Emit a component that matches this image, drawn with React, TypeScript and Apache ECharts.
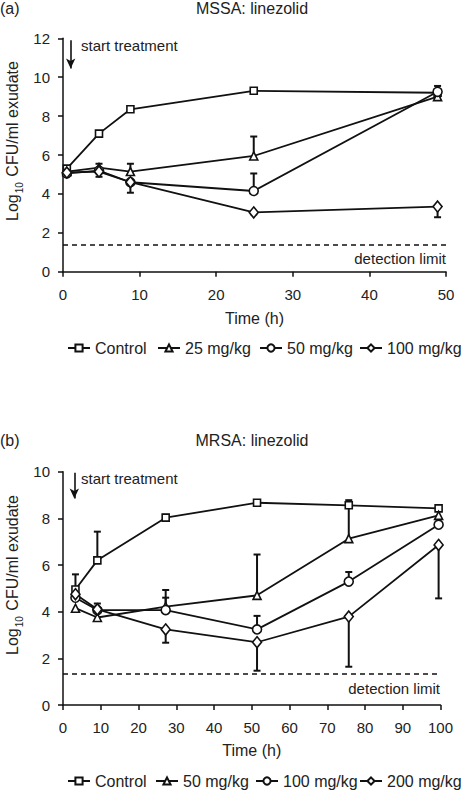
import React, { useEffect, useRef } from "react";
import * as echarts from "echarts";

// ---- Panel (a) MSSA ----
const timesA = [0.5, 4.7, 8.8, 24.9, 48.9];
const controlA = [5.3, 7.1, 8.35, 9.3, 9.2];
const mg25A = [5.15, 5.35, 5.15, 5.95, 9.0];
const mg50A = [5.05, 5.2, 4.6, 4.15, 9.25];
const mg100A = [5.1, 5.15, 4.6, 3.05, 3.35];
const mg25A_hi = [null, 5.55, 5.55, 6.95, null];
const mg50A_hi = [null, null, null, 5.05, 9.55];
const mg50A_lo = [null, null, null, null, 9.0];
const mg100A_lo = [null, 4.88, 4.06, 2.95, 2.8];
const legendA = ["Control", "25 mg/kg", "50 mg/kg", "100 mg/kg"];
const ticksAx = [0, 10, 20, 30, 40, 50];
const ticksAy = [0, 2, 4, 6, 8, 10, 12];
const detectionA = 1.4;
const startA = 1;

// ---- Panel (b) MRSA ----
const timesB = [3.3, 9.1, 27.2, 51.4, 75.7, 99.5];
const controlB = [4.95, 6.2, 8.03, 8.67, 8.56, 8.43];
const mg50B = [4.15, 3.75, 4.22, 4.7, 7.13, 8.13];
const mg100B = [4.6, 4.07, 4.07, 3.24, 5.29, 7.73];
const mg200B = [4.75, 4.1, 3.24, 2.69, 3.79, 6.86];
const controlB_hi = [5.6, 7.43, 8.15, null, 8.78, null];
const mg50B_hi = [null, null, 4.93, 6.45, 8.5, null];
const mg100B_hi = [null, 4.35, 4.6, 3.82, 5.7, null];
const mg200B_lo = [null, null, 2.67, 1.47, 1.64, 4.57];
const legendB = ["Control", "50 mg/kg", "100 mg/kg", "200 mg/kg"];
const ticksBx = [0, 10, 20, 30, 40, 50, 60, 70, 80, 90, 100];
const ticksBy = [0, 2, 4, 6, 8, 10];
const detectionB = 1.35;
const startB = 3;

const FONT = "Liberation Sans";
const INK = "#111";
const TXT = "#222";

function pairs(xs: number[], ys: number[]) {
  return xs.map((x, i) => [x, ys[i]]);
}
function bars(xs: number[], ys: number[], ends: (number | null)[]) {
  const out: number[][] = [];
  xs.forEach((x, i) => {
    const e = ends[i];
    if (e !== null && e !== undefined) out.push([x, ys[i], e]);
  });
  return out;
}

const symbols = ["rect", "triangle", "circle", "diamond"];
const symSizes: any[] = [7, 8, 9, [9, 11]];

export default function App() {
  const ref = useRef<HTMLDivElement>(null);
  useEffect(() => {
    if (!ref.current) return;
    const chart = echarts.init(ref.current, null, { renderer: "svg" });

    const labelMap: Record<string, string> = {};
    const namesA = legendA.map((l, i) => {
      labelMap["A" + i] = l;
      return "A" + i;
    });
    const namesB = legendB.map((l, i) => {
      labelMap["B" + i] = l;
      return "B" + i;
    });

    const lineSeries = (name: string, k: number, data: number[][], gi: number, extra: any = {}) => ({
      type: "line",
      name,
      xAxisIndex: gi,
      yAxisIndex: gi,
      data,
      symbol: symbols[k],
      symbolSize: symSizes[k],
      showSymbol: true,
      z: 3,
      lineStyle: { color: INK, width: 1.8 },
      itemStyle: { color: "#fff", borderColor: INK, borderWidth: 1.6 },
      emphasis: { disabled: true },
      ...extra,
    });

    const errSeries = (data: number[][], gi: number) => ({
      type: "custom",
      xAxisIndex: gi,
      yAxisIndex: gi,
      z: 2,
      silent: true,
      encode: { x: 0, y: [1, 2] },
      data,
      renderItem: (params: any, api: any) => {
        const x = api.value(0);
        const a = api.coord([x, api.value(1)]);
        const b = api.coord([x, api.value(2)]);
        return {
          type: "group",
          children: [
            { type: "line", shape: { x1: a[0], y1: a[1], x2: b[0], y2: b[1] }, style: { stroke: INK, lineWidth: 2 } },
            { type: "line", shape: { x1: b[0] - 3.5, y1: b[1], x2: b[0] + 3.5, y2: b[1] }, style: { stroke: INK, lineWidth: 2 } },
          ],
        };
      },
    });

    const arrowLine = (x: number, y0: number, y1: number) => ({
      silent: true,
      symbol: ["none", "arrow"],
      symbolSize: [7, 10],
      label: { show: false },
      lineStyle: { type: "solid", color: INK, width: 1.6 },
      data: [[{ coord: [x, y0] }, { coord: [x, y1] }]],
    });
    const detLine = (y: number) => ({
      silent: true,
      symbol: ["none", "none"],
      label: { show: false },
      lineStyle: { type: [5, 4], color: INK, width: 1.5 },
      data: [{ yAxis: y }],
    });

    const xAxisBase = (gi: number, max: number) => ({
      type: "value",
      gridIndex: gi,
      min: 0,
      max,
      interval: 10,
      name: "Time (h)",
      nameLocation: "middle",
      nameGap: gi === 0 ? 39 : 37,
      nameTextStyle: { fontFamily: FONT, fontSize: 16, color: TXT },
      axisLine: { show: true, lineStyle: { color: INK, width: 1.5 } },
      axisTick: { show: true, length: 5, lineStyle: { color: INK, width: 1.5 } },
      axisLabel: { fontFamily: FONT, fontSize: 15, color: TXT, margin: 15 },
      splitLine: { show: false },
    });
    const yAxisBase = (gi: number, max: number) => ({
      type: "value",
      gridIndex: gi,
      min: 0,
      max,
      interval: 2,
      axisLine: { show: true, lineStyle: { color: INK, width: 1.5 } },
      axisTick: { show: true, length: 5, lineStyle: { color: INK, width: 1.5 } },
      axisLabel: { fontFamily: FONT, fontSize: 15, color: TXT, margin: 13 },
      splitLine: { show: false },
    });

    const legendItem = (name: string, left: number, top: number) => ({
      data: [name],
      left,
      top,
      itemWidth: 22,
      itemHeight: 9,
      selectedMode: false,
      formatter: (n: string) => labelMap[n],
      textStyle: { fontFamily: FONT, fontSize: 16, color: TXT },
    });
    const legLeftA = [62, 152, 254, 354];
    const legLeftB = [62, 150, 250, 354];

    const rich = {
      a: { fontFamily: FONT, fontSize: 16, fill: TXT, lineHeight: 20, verticalAlign: "bottom" },
      s: { fontFamily: FONT, fontSize: 10, fill: TXT, lineHeight: 20, verticalAlign: "bottom", padding: [0, 1, -4, 1] },
    };

    const ylabel = (y: number) => ({
      type: "text",
      x: 10,
      y,
      rotation: Math.PI / 2,
      style: {
        text: "{a|Log}{s|10}{a| CFU/ml exudate}",
        rich,
        align: "center",
        verticalAlign: "middle",
        fill: TXT,
      },
    });
    const txt = (text: string, x: number, y: number, size: number, align = "left") => ({
      type: "text",
      x,
      y,
      style: { text, fontFamily: FONT, fontSize: size, fill: TXT, align, verticalAlign: "middle" },
    });

    chart.setOption({
      animation: false,
      backgroundColor: "#fff",
      grid: [
        { left: 63, top: 38.3, width: 383, height: 233.4 },
        { left: 63, top: 471.7, width: 377.5, height: 233.3 },
      ],
      xAxis: [xAxisBase(0, ticksAx[ticksAx.length - 1]), xAxisBase(1, ticksBx[ticksBx.length - 1])],
      yAxis: [yAxisBase(0, ticksAy[ticksAy.length - 1]), yAxisBase(1, ticksBy[ticksBy.length - 1])],
      legend: [
        ...namesA.map((n, i) => legendItem(n, legLeftA[i], 335)),
        ...namesB.map((n, i) => legendItem(n, legLeftB[i], 768)),
      ],
      graphic: [
        txt("(a)", 0, 8, 16),
        txt("MSSA: linezolid", 252, 8, 16, "center"),
        txt("(b)", 0, 440, 16),
        txt("MRSA: linezolid", 252, 440, 16, "center"),
        txt("start treatment", 81, 45, 15),
        txt("start treatment", 81, 478, 15),
        txt("detection limit", 446, 258, 15, "right"),
        txt("detection limit", 440, 688, 15, "right"),
        ylabel(141),
        ylabel(575),
      ],
      series: [
        lineSeries(namesA[0], 0, pairs(timesA, controlA), 0, { markLine: detLine(detectionA) }),
        lineSeries(namesA[1], 1, pairs(timesA, mg25A), 0, { markLine: arrowLine(startA, 11.9, 10.45) }),
        lineSeries(namesA[2], 2, pairs(timesA, mg50A), 0),
        lineSeries(namesA[3], 3, pairs(timesA, mg100A), 0),
        errSeries(bars(timesA, mg25A, mg25A_hi), 0),
        errSeries(bars(timesA, mg50A, mg50A_hi), 0),
        errSeries(bars(timesA, mg50A, mg50A_lo), 0),
        errSeries(bars(timesA, mg100A, mg100A_lo), 0),
        lineSeries(namesB[0], 0, pairs(timesB, controlB), 1, { markLine: detLine(detectionB) }),
        lineSeries(namesB[1], 1, pairs(timesB, mg50B), 1, { markLine: arrowLine(startB, 9.95, 8.85) }),
        lineSeries(namesB[2], 2, pairs(timesB, mg100B), 1),
        lineSeries(namesB[3], 3, pairs(timesB, mg200B), 1),
        errSeries(bars(timesB, controlB, controlB_hi), 1),
        errSeries(bars(timesB, mg50B, mg50B_hi), 1),
        errSeries(bars(timesB, mg100B, mg100B_hi), 1),
        errSeries(bars(timesB, mg200B, mg200B_lo), 1),
      ],
    });
    return () => chart.dispose();
  }, []);
  return <div ref={ref} style={{ position: "fixed", left: 0, top: 0, width: 464, height: 792, background: "#fff" }} />;
}
